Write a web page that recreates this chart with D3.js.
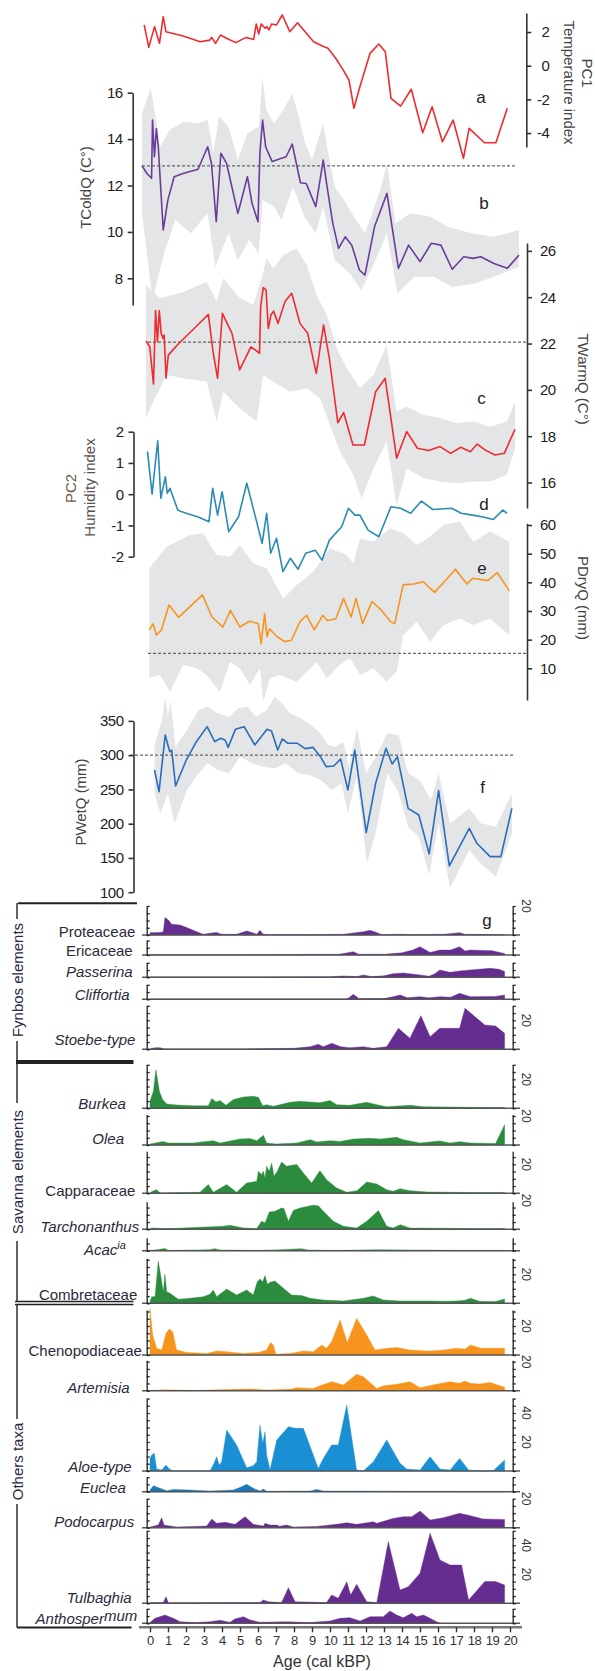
<!DOCTYPE html>
<html><head><meta charset="utf-8">
<script src="https://cdn.jsdelivr.net/npm/d3@7"></script>
<style>
body{margin:0;background:#fff;}
svg{display:block;font-family:"Liberation Sans",Arial,sans-serif;}
</style></head><body>
<svg id="c" width="595" height="1671"></svg>
<script>
// ---------- DATA (age kBP, value) ----------
const pc1 = [[0,2.42],[0.25,1.09],[0.56,2.32],[0.83,1.33],[1.03,2.91],[1.18,2.02],[2.11,1.76],[3.04,1.42],[3.56,1.52],[3.66,1.68],[3.87,1.33],[4.14,1.82],[4.49,1.62],[4.97,1.37],[5.53,1.68],[5.94,1.56],[6.08,2.48],[6.21,1.88],[6.35,2.48],[6.56,2.22],[6.66,2.32],[6.77,2.12],[6.91,2.48],[7.18,2.42],[7.49,3.01],[7.90,2.02],[8.32,2.55],[8.73,2.02],[9.19,1.42],[9.66,1.17],[9.97,1.03],[10.39,0.44],[10.80,-0.26],[11.11,-0.85],[11.38,-2.53],[11.73,-1.15],[12.25,0.73],[12.73,1.29],[13.08,0.83],[13.39,-1.94],[13.91,-2.40],[14.49,-1.40],[15.11,-3.98],[15.62,-2.44],[16.18,-4.52],[16.76,-3.23],[17.32,-5.5],[17.63,-3.72],[18.46,-4.58],[19.08,-4.58],[19.70,-2.53]];

const tcold = [[0,12.85],[0.26,12.52],[0.50,12.31],[0.55,14.82],[0.65,13.24],[0.75,14.46],[0.85,13.67],[1.11,10.08],[1.35,11.37],[1.68,12.38],[2.14,12.52],[2.93,12.70],[3.43,13.67],[3.63,12.95],[3.88,10.44],[4.12,13.39],[4.42,12.95],[5.01,10.80],[5.51,12.38],[5.75,11.23],[6.06,10.44],[6.16,13.39],[6.30,14.82],[6.46,13.67],[6.80,13.03],[7.29,13.17],[7.53,13.24],[7.85,13.79],[8.28,12.12],[8.58,12.09],[9.08,11.09],[9.47,13.10],[9.67,11.95],[9.97,10.37],[10.27,9.29],[10.62,9.79],[10.96,9.43],[11.36,8.36],[11.65,8.14],[12.15,10.22],[12.80,11.66],[13.40,8.43],[13.93,9.43],[14.53,8.72],[15.12,9.51],[15.62,9.43],[16.21,8.39],[16.81,8.93],[17.30,8.86],[17.70,8.93],[18.39,8.64],[19.09,8.43],[19.70,9.0]];
const tcoldHi = [[0,15.11],[0.46,16.19],[0.65,15.25],[0.95,13.67],[1.45,14.39],[2.14,14.75],[2.93,14.68],[3.43,14.82],[3.73,13.39],[4.02,14.97],[4.52,14.53],[5.01,13.10],[5.51,14.25],[6.10,14.53],[6.30,16.62],[6.50,15.25],[6.90,14.68],[7.39,15.25],[7.85,15.97],[8.19,14.97],[8.48,13.96],[8.88,13.10],[9.47,14.68],[9.67,13.67],[10.07,11.95],[10.56,11.37],[11.06,10.66],[11.65,9.94],[12.45,11.80],[12.80,12.95],[13.24,10.37],[14.03,10.80],[15.02,10.66],[16.01,10.22],[17.20,9.94],[18.39,9.79],[19.70,10.08]];
const tcoldLo = [[0,10.80],[0.55,7.06],[1.15,9.07],[1.74,10.51],[2.54,9.94],[3.43,10.80],[3.83,8.50],[4.52,9.94],[5.01,8.79],[5.61,9.65],[6.10,9.07],[6.30,11.37],[6.90,11.09],[7.29,10.51],[7.89,11.95],[8.48,10.66],[9.08,9.94],[9.47,11.09],[10.07,8.79],[10.86,8.21],[11.46,7.49],[12.05,8.50],[12.80,9.94],[13.34,7.35],[14.23,8.07],[15.22,8.07],[16.21,7.64],[17.40,7.78],[18.39,8.07],[19.70,8.50]];

const twarm = [[0,22.11],[0.20,21.86],[0.40,20.25],[0.51,23.42],[0.61,22.08],[0.71,23.42],[0.81,22.44],[0.91,22.22],[0.97,22.37],[1.07,20.50],[1.19,21.50],[1.76,22.01],[2.57,22.65],[3.33,23.26],[3.58,21.65],[3.82,20.50],[4.08,23.30],[4.59,22.44],[5.0,20.86],[5.60,21.86],[6.06,21.58],[6.12,23.59],[6.26,24.42],[6.41,24.31],[6.53,22.65],[6.67,23.23],[6.81,23.40],[7.05,22.87],[7.42,23.81],[7.78,24.17],[8.22,22.87],[8.63,22.44],[9.09,20.71],[9.48,22.80],[9.80,21.29],[10.24,18.58],[10.55,19.02],[11.05,17.62],[11.66,17.62],[12.26,19.92],[12.77,20.50],[13.38,17.05],[13.92,18.20],[14.49,17.48],[15.09,17.38],[15.70,17.55],[16.26,17.26],[16.81,17.52],[17.32,17.33],[17.68,17.66],[18.12,17.40],[18.63,17.19],[19.13,17.26],[19.70,18.30]];
const twarmHi = [[0,24.52],[0.75,23.95],[1.99,24.23],[3.24,24.67],[3.77,23.81],[4.13,24.82],[5.02,23.95],[5.73,23.66],[6.18,24.82],[6.44,25.68],[6.80,25.24],[7.33,25.82],[8.04,26.11],[8.58,25.39],[9.11,24.10],[9.65,23.23],[10.18,21.79],[10.71,20.93],[11.43,20.07],[12.14,20.64],[12.85,21.93],[13.38,19.06],[13.92,19.28],[14.81,18.92],[15.70,18.78],[16.59,18.56],[17.48,18.63],[18.37,18.41],[19.26,18.63],[19.70,19.49]];
const twarmLo = [[0,18.77],[0.39,19.49],[1.10,20.64],[1.99,20.50],[3.24,20.35],[3.77,18.63],[4.13,19.92],[5.02,19.20],[5.91,18.63],[6.26,20.64],[6.80,20.35],[7.69,19.92],[8.58,20.07],[9.29,19.64],[9.82,18.49],[10.36,17.33],[11.07,16.33],[11.51,15.32],[12.14,16.61],[12.85,17.77],[13.38,15.03],[13.92,16.61],[14.81,16.18],[15.70,16.04],[16.59,15.97],[17.48,16.04],[18.37,16.04],[19.26,16.33],[19.70,17.48]];

const pc2 = [[0,1.36],[0.25,0.0],[0.56,1.71],[0.73,-0.13],[0.98,0.56],[1.08,0.03],[1.23,0.19],[1.66,-0.51],[2.12,-0.61],[2.74,-0.72],[3.37,-0.88],[3.57,0.19],[3.84,-0.67],[4.09,0.08],[4.45,-1.20],[4.99,-0.72],[5.44,0.35],[5.96,-0.83],[6.28,-1.57],[6.53,-0.61],[6.75,-1.89],[7.07,-1.41],[7.42,-2.48],[7.83,-2.05],[8.25,-2.40],[8.67,-1.89],[9.19,-1.79],[9.56,-2.11],[9.97,-1.47],[10.64,-1.04],[11.01,-0.45],[11.37,-0.67],[11.64,-0.67],[12.09,-1.15],[12.68,-1.36],[13.34,-0.40],[13.86,-0.45],[14.42,-0.61],[15.01,-0.22],[15.63,-0.49],[16.67,-0.45],[17.19,-0.61],[17.81,-0.67],[18.33,-0.72],[18.95,-0.81],[19.47,-0.51],[19.70,-0.61]];

const pdry = [[0,23.4],[0.21,25.5],[0.39,21.6],[0.66,23.4],[1.08,32.1],[1.60,27.8],[2.91,35.6],[3.43,27.9],[4.03,24.4],[4.44,30.2],[4.96,24.4],[5.48,26.4],[5.96,25.6],[6.12,18.6],[6.31,29.1],[6.44,21.0],[6.58,23.8],[7.0,21.0],[7.41,19.3],[7.78,19.8],[8.24,26.2],[8.61,28.5],[9.03,23.4],[9.49,28.5],[9.74,26.7],[10.21,27.3],[10.63,34.4],[11.04,27.9],[11.31,34.4],[11.67,25.6],[12.19,33.3],[12.70,30.3],[13.22,26.2],[13.43,25.6],[13.89,39.1],[14.47,39.4],[14.99,40.2],[15.61,36.5],[16.23,40.8],[16.75,44.6],[17.38,39.4],[17.69,41.4],[18.52,40.6],[19.04,43.4],[19.70,37.0]];
const pdryHi = [[0,44.9],[0.95,52.4],[2.23,56.5],[2.95,57.1],[3.68,49.5],[4.41,49.0],[4.96,53.0],[5.69,46.6],[6.42,44.9],[7.33,34.4],[8.06,39.1],[8.97,43.7],[9.89,51.9],[10.80,49.5],[11.16,46.6],[11.53,55.3],[12.26,54.2],[13.17,58.8],[13.90,57.1],[14.63,53.0],[15.36,55.9],[16.09,60.0],[17.00,61.2],[17.73,54.2],[18.64,57.7],[19.70,54.2]];
const pdryLo = [[0,6.5],[0.58,7.7],[1.13,1.8],[1.86,11.2],[2.59,10.0],[3.14,7.7],[3.87,1.8],[4.41,12.3],[4.96,10.0],[5.51,4.2],[6.06,10.0],[6.24,-1.6],[6.60,6.5],[7.15,7.7],[8.06,5.3],[8.61,8.8],[9.16,12.3],[9.70,6.5],[10.43,11.2],[10.98,13.5],[11.53,7.7],[12.26,10.0],[12.99,5.3],[13.53,8.8],[13.90,21.6],[14.63,26.3],[15.36,19.3],[16.09,25.1],[17.00,27.4],[17.73,25.1],[18.64,27.4],[19.70,21.6]];

const pwet = [[0,278.3],[0.25,246.7],[0.59,329.4],[0.84,305.1],[0.95,307.5],[1.16,255.0],[1.75,292.9],[2.31,319.7],[2.90,341.6],[3.32,319.7],[3.64,324.6],[3.89,322.1],[4.06,311.4],[4.46,337.7],[4.94,341.6],[5.53,314.8],[6.20,337.7],[6.45,335.3],[6.79,307.5],[7.04,323.6],[7.36,317.3],[7.88,317.3],[8.30,309.5],[8.73,311.4],[9.15,297.8],[9.46,283.2],[9.88,284.2],[10.26,294.4],[10.66,249.2],[11.04,307.5],[11.67,186.9],[12.19,259.0],[12.76,310.0],[13.10,287.1],[13.39,297.8],[13.98,222.4],[14.57,212.7],[15.14,155.8],[15.66,248.2],[16.25,138.3],[17.35,193.2],[17.77,171.4],[18.50,151.9],[19.09,151.9],[19.70,222.4]];
const pwetHi = [[0,314.8],[0.42,351.3],[0.59,385.3],[0.74,356.2],[0.88,380.5],[1.16,312.4],[1.79,336.7],[2.42,365.9],[2.94,370.8],[3.47,361.0],[4.10,356.2],[4.63,368.3],[5.15,370.8],[5.57,356.2],[6.20,365.9],[6.62,385.3],[7.04,375.6],[7.46,361.0],[8.09,353.7],[8.73,341.6],[9.15,331.8],[9.57,314.8],[9.99,312.4],[10.41,319.7],[10.72,283.2],[11.15,339.1],[11.67,273.5],[12.30,302.7],[12.83,331.8],[13.46,329.4],[13.98,273.5],[14.61,263.8],[15.24,234.6],[15.66,273.5],[16.29,200.5],[17.35,222.4],[17.98,200.5],[18.82,195.6],[19.70,244.3]];
const pwetLo = [[0,244.3],[0.32,215.1],[0.74,244.3],[1.11,200.5],[1.79,249.2],[2.42,273.5],[2.94,288.1],[3.47,278.4],[4.10,273.5],[4.73,297.8],[5.36,288.1],[5.99,283.2],[6.62,280.8],[7.25,288.1],[7.88,273.5],[8.52,271.0],[9.15,263.8],[9.78,249.2],[10.30,258.9],[10.66,215.1],[11.15,268.6],[11.71,142.2],[12.19,186.0],[12.83,273.5],[13.46,244.3],[13.98,195.6],[14.57,181.0],[15.14,125.1],[15.66,200.5],[16.29,105.6],[17.35,161.6],[17.98,142.2],[18.82,122.7],[19.70,185.9]];

// reference (modern) values, dashed lines
const refTcold = 12.85, refTwarm = 22.06, refPdry = 15.2, refPwet = 300;

// tick values
const ticksA = [-4,-2,0,2], ticksB = [8,10,12,14,16], ticksC = [16,18,20,22,24,26];
const ticksD = [-2,-1,0,1,2], ticksE = [10,20,30,40,50,60], ticksF = [100,150,200,250,300,350];
const ageTicks = d3.range(0,21);

// pollen percentages
const proteaceae = [[0,1.6],[0.56,1.8],[0.74,2.3],[0.83,12.0],[1.02,10.3],[1.20,7.4],[1.67,6.9],[2.04,5.1],[2.59,2.3],[2.96,0.5],[3.43,1.4],[3.70,1.8],[3.98,0.5],[4.81,0.5],[5.37,2.8],[5.65,1.8],[5.93,0.5],[6.11,3.2],[6.26,0.9],[6.48,0.2],[8.89,0.2],[10.74,0.5],[11.85,2.3],[12.22,3.2],[12.59,1.8],[12.87,0.2],[13.89,0.5],[14.44,0.2],[16.3,0.5],[17.2,1.6],[17.5,0.5],[18.5,0.3],[19.7,0.3]];
const ericaceae = [[0,0.2],[5,0.2],[10.5,0.5],[11.3,2.3],[11.6,0.5],[13.0,0.5],[14.0,1.5],[14.6,3.4],[15.0,5.7],[15.56,1.8],[16.1,3.4],[16.7,3.4],[17.2,5.7],[17.5,2.8],[17.8,3.4],[19.0,3.0],[19.7,1.0]];
const passerina = [[0,0.2],[6,0.2],[10.0,0.3],[10.7,0.9],[11.5,0.5],[11.85,1.6],[12.3,0.5],[13.0,1.0],[13.5,2.5],[14.07,3.0],[15.0,1.6],[15.5,0.8],[15.83,2.5],[16.1,5.1],[16.67,3.4],[17.2,4.4],[17.8,5.1],[18.9,6.2],[19.4,5.5],[19.7,4.0]];
const cliffortia = [[0,0.2],[10.8,0.2],[11.0,0.5],[11.3,3.4],[11.6,0.5],[13.0,0.5],[13.5,1.8],[13.9,3.0],[14.3,1.0],[15.0,1.8],[15.5,1.0],[16.1,1.8],[16.7,1.5],[17.2,4.1],[17.8,1.8],[19.2,2.0],[19.7,3.0]];
const stoebe = [[0,0.2],[0.28,1.1],[0.56,1.1],[0.8,0.2],[5.2,0.2],[7.96,0.7],[8.9,1.8],[9.35,3.4],[9.63,1.8],[10.1,4.1],[10.6,1.8],[11.1,1.1],[11.85,1.8],[12.4,0.7],[13.15,1.8],[13.8,14.5],[14.44,7.6],[15.05,23.2],[15.56,8.7],[16.1,14.5],[17.2,14.5],[17.5,28.3],[18.6,16.8],[19.2,16.1],[19.7,11.0]];
const burkea = [[0,4.8],[0.19,11.7],[0.33,26.7],[0.52,11.7],[0.7,6.0],[0.93,3.0],[1.48,2.3],[2.4,1.8],[3.24,1.8],[3.43,6.7],[3.67,4.4],[3.89,5.3],[4.22,2.1],[4.63,6.0],[5.19,7.8],[5.74,8.3],[6.02,7.6],[6.26,1.8],[6.48,2.5],[6.85,1.4],[7.78,4.1],[8.33,4.8],[9.44,3.9],[10.0,5.3],[10.37,2.5],[11.1,2.1],[12.04,4.1],[12.6,2.5],[13.15,1.1],[14.44,2.1],[15.2,1.1],[17.8,0.7],[19.7,0.5]];
const olea = [[0,0.7],[0.74,2.5],[1.0,1.4],[2.4,1.4],[3.5,3.0],[3.9,1.4],[5.0,4.1],[5.56,4.4],[5.93,3.0],[6.3,6.7],[6.48,1.4],[7.0,0.7],[8.15,1.4],[8.9,3.7],[9.26,2.1],[10.0,3.0],[10.56,2.5],[11.3,4.1],[12.2,4.6],[12.8,4.1],[13.7,5.3],[14.07,3.7],[15.0,1.4],[16.1,2.8],[16.67,1.4],[17.2,2.3],[17.8,1.4],[19.2,1.0],[19.7,14.0]];
const capparaceae = [[0,0.2],[0.19,1.8],[0.37,2.5],[0.56,0.2],[2.78,0.7],[3.24,6.0],[3.52,0.7],[4.26,6.0],[4.81,0.7],[5.37,7.1],[5.93,8.3],[6.02,15.2],[6.2,12.9],[6.3,15.2],[6.39,10.6],[6.48,18.6],[6.63,15.2],[6.76,20.9],[6.89,11.7],[7.07,15.2],[7.31,21.6],[7.59,18.6],[7.87,19.3],[8.15,19.8],[8.52,14.0],[8.98,7.1],[9.44,15.6],[9.81,9.4],[10.37,3.7],[10.93,0.7],[11.5,1.8],[12.04,7.8],[12.6,6.4],[13.15,2.5],[13.5,1.4],[13.9,3.2],[14.44,1.8],[15.4,0.9],[16.85,0.7],[17.8,0.5],[19.7,0.5]];
const tarchonanthus = [[0,0.5],[0.19,0.9],[0.74,0.5],[1.48,0.7],[4.07,2.1],[4.44,2.8],[5.19,0.9],[5.93,0.5],[6.07,3.2],[6.2,5.5],[6.39,4.4],[6.63,12.0],[6.94,12.4],[7.31,14.7],[7.44,14.3],[7.69,5.5],[7.96,12.9],[8.33,14.7],[9.04,16.6],[9.35,16.3],[9.63,12.4],[10.19,5.5],[10.74,2.1],[11.48,0.9],[12.04,5.5],[12.69,12.9],[13.15,2.1],[13.5,0.9],[13.9,3.2],[14.44,0.9],[17.8,0.5],[19.7,0.5]];
const acacia = [[0,0.2],[0.37,0.7],[0.83,1.6],[1.02,0.2],[3.33,0.7],[3.6,1.4],[3.9,0.5],[5.93,0.2],[7.2,0.7],[8.4,1.4],[8.8,0.5],[10.2,0.2],[12.6,0.7],[17.8,0.2],[19.7,0.2]];
const combretaceae = [[0,1.1],[0.09,4.6],[0.28,4.6],[0.46,29.2],[0.65,14.9],[0.74,8.0],[0.83,20.0],[0.93,8.0],[1.11,6.9],[1.57,2.8],[2.22,3.4],[2.96,4.6],[3.33,6.2],[3.52,9.2],[3.7,4.6],[4.26,9.9],[4.81,5.7],[5.37,9.2],[5.74,5.7],[5.96,14.9],[6.11,16.8],[6.26,14.9],[6.39,19.1],[6.52,13.1],[6.67,14.5],[6.94,15.4],[7.41,10.3],[7.87,5.7],[8.43,5.3],[8.89,3.4],[9.63,2.3],[10.74,1.6],[11.85,3.4],[12.4,5.1],[12.96,2.3],[13.9,1.6],[15.56,1.6],[16.3,1.4],[17.0,1.6],[17.5,2.1],[17.8,3.4],[18.3,1.5],[19.2,1.2],[19.7,3.0]];
const chenopodiaceae = [[0,31.7],[0.15,13.8],[0.37,4.6],[0.65,3.4],[0.89,14.9],[1.07,17.9],[1.26,16.1],[1.48,3.4],[2.04,1.8],[3.15,1.1],[3.7,2.8],[4.26,2.3],[5.19,1.1],[6.02,1.8],[6.48,3.4],[6.7,8.7],[6.85,6.9],[7.0,0.5],[7.78,1.1],[8.52,2.8],[9.07,2.3],[9.54,6.9],[9.81,4.6],[10.09,9.2],[10.56,24.1],[10.96,8.7],[11.48,25.3],[12.04,13.8],[12.5,3.4],[13.15,4.6],[13.7,5.1],[14.44,3.4],[15.56,2.8],[16.3,3.4],[17.0,4.6],[17.5,4.1],[17.8,6.9],[18.4,4.6],[19.7,4.6]];
const artemisia = [[0,0.2],[0.74,0.7],[2.4,0.2],[5.19,1.1],[5.74,1.1],[6.48,0.5],[7.87,1.1],[8.15,2.1],[9.07,1.6],[9.44,3.4],[10.09,6.2],[10.74,3.9],[11.48,11.3],[11.85,9.7],[12.6,1.6],[12.96,3.4],[13.7,4.4],[14.44,6.2],[15.0,2.1],[15.9,4.4],[16.67,6.2],[17.2,5.1],[17.5,6.7],[17.8,5.1],[18.3,4.6],[18.9,5.7],[19.7,2.3]];
const aloe = [[0,8.7],[0.09,11.0],[0.24,12.2],[0.37,1.4],[0.65,0.7],[0.89,4.1],[1.07,1.4],[1.3,0],[3.33,0],[3.56,5.3],[3.7,9.9],[3.85,4.1],[3.98,6.4],[4.26,28.3],[4.81,17.9],[5.37,2.3],[5.74,3.7],[5.93,6.4],[6.11,31.7],[6.26,19.1],[6.39,27.1],[6.48,11.0],[6.67,0.7],[7.04,21.4],[7.69,30.6],[8.06,29.4],[8.52,29.4],[9.35,1.8],[9.63,8.7],[10.09,17.9],[10.46,17.9],[10.93,45.5],[11.48,0.7],[11.85,0],[12.41,6.4],[13.15,21.4],[13.89,5.3],[14.26,1.4],[15.0,0.7],[15.56,9.9],[16.11,1.4],[16.67,0.7],[17.2,8.7],[17.7,0.7],[18.5,0],[19.1,0.5],[19.7,7.6]];
const euclea = [[0,1.1],[0.19,4.1],[0.56,2.3],[0.93,0.7],[1.3,1.6],[2.22,1.1],[3.33,0.5],[4.63,1.1],[5.09,3.4],[5.37,5.1],[5.74,2.3],[6.11,0.5],[6.3,1.8],[6.48,0.3],[8.9,0.5],[9.26,1.6],[9.63,0.5],[17.8,0.2],[19.7,0.2]];
const podocarpus = [[0,0.5],[0.46,1.8],[0.65,6.9],[0.78,1.8],[1.02,1.4],[1.48,0.5],[3.15,1.1],[3.43,6.0],[3.7,3.0],[4.17,3.7],[4.44,3.0],[4.72,2.3],[5.28,7.6],[5.74,2.3],[6.3,1.1],[6.39,3.0],[6.67,1.8],[7.04,1.8],[7.2,1.0],[7.59,1.8],[7.96,0.5],[9.26,0.9],[10.37,2.3],[10.93,3.4],[11.48,2.3],[12.41,4.1],[12.6,3.0],[13.5,6.4],[14.07,7.6],[14.54,7.6],[15.0,11.5],[15.56,5.3],[16.3,6.9],[17.2,9.9],[17.8,8.3],[18.5,6.0],[19.7,5.7]];
const tulbaghia = [[0,0.5],[0.74,0.5],[0.89,4.6],[1.02,0.3],[6.11,0.5],[6.3,2.3],[6.57,1.1],[7.31,0.5],[7.69,10.8],[8.06,1.1],[9.81,0.5],[10.09,5.7],[10.46,3.4],[10.93,14.9],[11.15,5.7],[11.48,13.1],[12.04,1.1],[12.6,0.5],[13.24,42.5],[13.89,9.2],[14.35,11.5],[15.0,20.7],[15.56,48.3],[16.11,29.9],[16.67,26.4],[17.31,26.4],[17.7,2.3],[18.6,15.0],[19.2,15.0],[19.7,12.6]];
const anthospermum = [[0,0.5],[0.28,3.4],[0.83,5.7],[1.3,3.4],[1.67,1.1],[2.5,0.5],[3.33,1.1],[3.89,2.1],[4.44,0.7],[4.72,3.0],[5.19,4.6],[5.56,2.3],[6.11,0.7],[7.59,1.1],[8.89,0.5],[10.0,1.6],[10.56,3.4],[11.1,3.9],[11.67,1.6],[12.22,4.6],[12.96,4.6],[13.33,8.5],[13.7,5.7],[14.07,3.9],[14.54,6.9],[14.81,4.6],[15.19,5.7],[15.56,3.4],[16.0,0.5],[16.2,0]];

const taxa = ["Proteaceae","Ericaceae","Passerina","Cliffortia","Stoebe-type","Burkea","Olea","Capparaceae","Tarchonanthus","Acacia","Combretaceae","Chenopodiaceae","Artemisia","Aloe-type","Euclea","Podocarpus","Tulbaghia","Anthospermum"];
const taxaData = [proteaceae,ericaceae,passerina,cliffortia,stoebe,burkea,olea,capparaceae,tarchonanthus,acacia,combretaceae,chenopodiaceae,artemisia,aloe,euclea,podocarpus,tulbaghia,anthospermum];
const taxaMax = [20,10,10,10,30,30,21,29,19,9,31,31,21,50,10,20,50,10];
const taxaLabelTicks = [[20],[],[],[],[20],[20],[20],[20],[20],[],[20],[20],[20],[20,40],[],[20],[20,40],[]];

// ---------- DRAW ----------
const svg = d3.select("#c");
const INK = "#333";
const BAND = "#e4e5e6";

function panel(o){
  const x = d3.scaleLinear().domain([0,19.7]).range(o.xr);
  const y = d3.scaleLinear().domain(o.yd).range(o.yr);
  return {x,y};
}
const PA = panel({xr:[144.2,507.3], yd:[-4.83,3.13], yr:[147,13]});
const PB = panel({xr:[142,519], yd:[6.85,16], yr:[305,92.7]});
const PC = panel({xr:[146,515], yd:[14.9,26.34], yr:[508,243]});
const PD = panel({xr:[147.5,507], yd:[-2,2], yr:[556.7,431.7]});
const PE = panel({xr:[149.3,509.3], yd:[-1.06,60.6], yr:[700,523.3]});
const PF = panel({xr:[154.5,511.9], yd:[100,350], yr:[892.2,720.9]});

const gBand = svg.append("g"), gDash = svg.append("g"), gLine = svg.append("g"), gAxis = svg.append("g");

function band(P, hi, lo){
  const ln = d3.line().x(d=>P.x(d[0])).y(d=>P.y(d[1]));
  gBand.append("path").attr("d", ln(hi.concat(lo.slice().reverse())) + "Z")
    .attr("fill", BAND).attr("stroke","none");
}
band(PB, tcoldHi, tcoldLo);
band(PC, twarmHi, twarmLo);
band(PE, pdryHi, pdryLo);
band(PF, pwetHi, pwetLo);

function dash(P, v, x0, x1){
  gDash.append("line").attr("x1",x0).attr("x2",x1).attr("y1",P.y(v)).attr("y2",P.y(v))
    .attr("stroke","#666").attr("stroke-width",1.3).attr("stroke-dasharray","3,2");
}
dash(PB, refTcold, 142, 517);
dash(PC, refTwarm, 148, 527);
dash(PE, refPdry, 148, 527);
dash(PF, refPwet, 130, 515);

function line(P, data, color){
  gLine.append("path").attr("d", d3.line().x(d=>P.x(d[0])).y(d=>P.y(d[1]))(data))
    .attr("fill","none").attr("stroke",color).attr("stroke-width",1.6).attr("stroke-linejoin","round");
}
line(PA, pc1, "#ee2b30");
line(PB, tcold, "#6a3d9a");
line(PC, twarm, "#ee2b30");
line(PD, pc2, "#2a8cb2");
line(PE, pdry, "#f7941e");
line(PF, pwet, "#2a6dbb");

function axis(P, side, xpos, ticks, fmt){
  const ax = (side==="left"? d3.axisLeft(P.y) : d3.axisRight(P.y))
    .tickValues(ticks).tickSizeOuter(0).tickSizeInner(5).tickPadding(side==="left"?5:8)
    .tickFormat(fmt || (d=>String(d)));
  const g = gAxis.append("g").attr("transform",`translate(${xpos},0)`).call(ax);
  g.select(".domain").attr("stroke",INK).attr("stroke-width",1.6);
  g.selectAll(".tick line").attr("stroke",INK).attr("stroke-width",1.6);
  g.selectAll(".tick text").attr("fill","#222").style("font-size","15px").style("letter-spacing","-0.5px");
  return g;
}
const gA = axis(PA, "right", 526.3, ticksA);
gA.selectAll(".tick text").attr("text-anchor","end").attr("x",23);
axis(PB, "left", 132.7, ticksB);
axis(PC, "right", 527, ticksC);
axis(PD, "left", 133.5, ticksD);
axis(PE, "right", 527, ticksE);
axis(PF, "left", 133.5, ticksF);

function rtext(txt, cx, cy, rot, size, color){
  svg.append("text").attr("transform",`translate(${cx},${cy}) rotate(${rot})`)
    .attr("text-anchor","middle").attr("dominant-baseline","central")
    .style("font-size",(size||15)+"px").attr("fill",color||"#444").text(txt);
}
rtext("PC1", 587, 73, 90);
rtext("Temperature index", 569, 82.5, 90);
rtext("TColdQ (C°)", 85.8, 187.5, -90);
rtext("TWarmQ (C°)", 583.6, 379, 90);
rtext("PC2", 70.6, 488.5, -90, 15, "#6b5a4e");
rtext("Humidity index", 89.6, 487.5, -90, 15, "#5a5050");
rtext("PDryQ (mm)", 583.6, 598, 90);
rtext("PWetQ (mm)", 80, 802, -90);

const letters = [["a",481,97],["b",484,203],["c",481.5,398],["d",484,504],["e",482,568],["f",482.5,787],["g",487,920]];
letters.forEach(l=>{
  svg.append("text").attr("x",l[1]).attr("y",l[2]).attr("text-anchor","middle")
    .attr("dominant-baseline","central").style("font-size","17px").attr("fill","#222").text(l[0]);
});

// ---------- POLLEN DIAGRAM ----------
const xP = d3.scaleLinear().domain([0,20]).range([150,510]);
const PX = 1.45; // px per percent
const RX = 512.7; // right axis
const rows = [
  {base:935,   ty:931.7,  tr:135.4, it:false, col:"#662d91"},
  {base:955,   ty:950,    tr:132.7, it:false, col:"#662d91"},
  {base:977.3, ty:971.7,  tr:132.7, it:true,  col:"#662d91"},
  {base:999.3, ty:994,    tr:129.7, it:true,  col:"#662d91"},
  {base:1049.3,ty:1039.3, tr:135.4, it:true,  col:"#662d91"},
  {base:1108.3,ty:1103.3, tr:125.9, it:true,  col:"#2a8c3c"},
  {base:1145,  ty:1138.3, tr:124,   it:true,  col:"#2a8c3c"},
  {base:1193.3,ty:1190,   tr:135.4, it:false, col:"#2a8c3c"},
  {base:1229.3,ty:1226,   tr:139.2, it:true,  col:"#2a8c3c"},
  {base:1250.7,ty:1249.3, tr:125.9, it:true,  col:"#2a8c3c"},
  {base:1303.3,ty:1294,   tr:137.3, it:false, col:"#2a8c3c"},
  {base:1355,  ty:1350.7, tr:141.9, it:false, col:"#f7941d"},
  {base:1390.7,ty:1387.3, tr:129.7, it:true,  col:"#f7941d"},
  {base:1471,  ty:1466,   tr:131.6, it:true,  col:"#1b8fd3"},
  {base:1491.7,ty:1487.7, tr:125.9, it:true,  col:"#1a78bd"},
  {base:1527.7,ty:1521.7, tr:134.2, it:true,  col:"#662d91"},
  {base:1603.3,ty:1597.3, tr:131.6, it:true,  col:"#662d91"},
  {base:1623.3,ty:1617.7, tr:137.3, it:true,  col:"#662d91"}
];
const gP = svg.append("g");
taxa.forEach((name,i)=>{
  const r = rows[i];
  const y = d3.scaleLinear().domain([0,taxaMax[i]]).range([r.base, r.base - taxaMax[i]*PX]);
  const area = d3.area().x(d=>xP(d[0])).y0(y(0)).y1(d=>y(d[1]));
  gP.append("path").attr("d", area(taxaData[i])).attr("fill", r.col).attr("stroke", r.col).attr("stroke-width",0.4);
  gP.append("line").attr("x1",142).attr("x2",520).attr("y1",r.base).attr("y2",r.base)
    .attr("stroke","#555").attr("stroke-width",1.6);
  const tv = d3.range(0, taxaMax[i]+0.01, 5);
  const axL = d3.axisRight(y).tickValues(tv).tickSizeInner(3).tickSizeOuter(0).tickFormat("");
  const gl = gP.append("g").attr("transform","translate(146.7,0)").call(axL);
  const axR = d3.axisRight(y).tickValues(tv).tickSizeInner(3).tickSizeOuter(0).tickFormat("");
  const gr = gP.append("g").attr("transform",`translate(${RX},0)`).call(axR);
  [gl,gr].forEach(g=>{
    g.select(".domain").attr("stroke","#222").attr("stroke-width",1.3);
    g.selectAll(".tick line").attr("stroke","#222").attr("stroke-width",1.3);
  });
  taxaLabelTicks[i].forEach(t=>{
    gP.append("text").attr("transform",`translate(526,${y(t)}) rotate(90)`)
      .attr("text-anchor","middle").attr("dominant-baseline","central")
      .style("font-size","12px").attr("fill","#333").text(String(t));
  });
  const tx = gP.append("text").attr("x", r.tr).attr("y", r.ty).attr("text-anchor","end")
    .attr("dominant-baseline","central").style("font-size","15px").attr("fill","#2a2a3a")
    .style("font-style", r.it ? "italic" : "normal");
  if (name === "Acacia"){
    tx.append("tspan").text("Acac");
    tx.append("tspan").attr("dy",-4).style("font-size","11px").text("ia");
  } else if (name === "Anthospermum"){
    tx.append("tspan").text("Anthosper");
    tx.append("tspan").attr("dy",-3).text("mum");
  } else tx.text(name);
});

// group brackets
const gG = svg.append("g").attr("stroke","#222").attr("fill","none");
gG.append("line").attr("x1",18).attr("x2",137).attr("y1",903.3).attr("y2",903.3).attr("stroke-width",2);
gG.append("line").attr("x1",17).attr("x2",17).attr("y1",903).attr("y2",919);
gG.append("line").attr("x1",17).attr("x2",17).attr("y1",1041).attr("y2",1062);
gG.append("line").attr("x1",16).attr("x2",133.5).attr("y1",1062).attr("y2",1062).attr("stroke-width",4);
gG.append("line").attr("x1",17).attr("x2",17).attr("y1",1062).attr("y2",1103);
gG.append("line").attr("x1",17).attr("x2",17).attr("y1",1241).attr("y2",1302);
gG.append("line").attr("x1",15).attr("x2",133.5).attr("y1",1301.5).attr("y2",1301.5).attr("stroke-width",1.4);
gG.append("line").attr("x1",15).attr("x2",133.5).attr("y1",1304.5).attr("y2",1304.5).attr("stroke-width",1.4);
gG.append("line").attr("x1",17).attr("x2",17).attr("y1",1305).attr("y2",1419);
gG.append("line").attr("x1",17).attr("x2",17).attr("y1",1504).attr("y2",1627.5);
gG.append("line").attr("x1",17).attr("x2",131.6).attr("y1",1627.5).attr("y2",1627.5).attr("stroke-width",2);
gG.selectAll("line").filter(function(){return !this.getAttribute("stroke-width");}).attr("stroke-width",1.4);

rtext("Fynbos elements", 17, 980, -90, 15, "#2a2a3a");
rtext("Savanna elements", 17, 1172, -90, 15, "#2a2a3a");
rtext("Others taxa", 17, 1461.5, -90, 15, "#2a2a3a");

// x axis
svg.append("line").attr("x1",139).attr("x2",522).attr("y1",1627.3).attr("y2",1627.3)
  .attr("stroke","#777").attr("stroke-width",2.5);
const gx = svg.append("g").attr("transform","translate(0,1627.3)")
  .call(d3.axisBottom(xP).tickValues(ageTicks).tickSizeInner(5).tickSizeOuter(0).tickPadding(3).tickFormat(d=>String(d)));
gx.select(".domain").remove();
gx.selectAll(".tick line").attr("stroke","#333").attr("stroke-width",1.4);
gx.selectAll(".tick text").attr("fill","#333").style("font-size","13px").style("letter-spacing","-0.4px");
svg.append("text").attr("x",322).attr("y",1667).attr("text-anchor","middle")
  .style("font-size","16px").attr("fill","#333").text("Age (cal kBP)");
</script></body></html>
